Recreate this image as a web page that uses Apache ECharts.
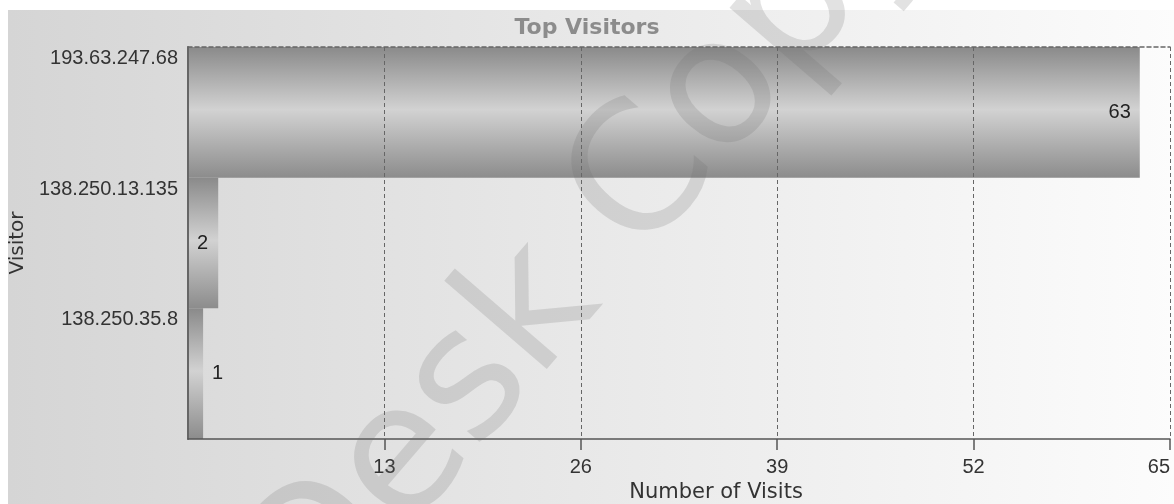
<!DOCTYPE html>
<html>
<head>
<meta charset="utf-8">
<script src="https://cdn.jsdelivr.net/npm/echarts@6/dist/echarts.min.js"></script>
<style>
html,body{margin:0;padding:0;background:#fff;}
#chart{width:1174px;height:504px;}
</style>
</head>
<body>
<div id="chart"></div>
<script>
const titleText = 'Top Visitors';
const visitors = ['193.63.247.68', '138.250.13.135', '138.250.35.8'];
const visits = [63, 2, 1];
const xTicks = { min: 0, max: 65, interval: 13 };
const xName = 'Number of Visits';
const yName = 'Visitor';
const watermark = 'Desk Copy';

const labelPos = ['insideRight', 'insideLeft', 'right'];
const barGrad = {
  type: 'linear', x: 0, y: 0, x2: 0, y2: 1,
  colorStops: [
    { offset: 0, color: '#8a8a8a' },
    { offset: 0.48, color: '#d2d2d2' },
    { offset: 1, color: '#8c8c8c' }
  ]
};

const chart = echarts.init(document.getElementById('chart'), null, { renderer: 'canvas' });
chart.setOption({
  animation: false,
  title: {
    text: titleText, left: 'center', top: 17, padding: 0,
    textStyle: { fontFamily: 'DejaVu Sans', fontWeight: 'bold', fontSize: 22, color: '#8c8c8c' }
  },
  graphic: [
    {
      type: 'rect', z: -10, silent: true,
      shape: { x: 8, y: 10, width: 1166, height: 494 },
      style: {
        fill: { type: 'linear', x: 0, y: 0, x2: 1, y2: 0,
          colorStops: [{ offset: 0, color: '#d5d5d5' }, { offset: 1, color: '#fcfcfc' }] }
      }
    },
    {
      type: 'text', z: 100, silent: true,
      x: 590, y: 248, rotation: 0.86,
      style: {
        text: watermark, x: 0, y: 0, align: 'center', verticalAlign: 'middle',
        font: 'normal 178px "DejaVu Sans"', fill: 'rgba(110,110,110,0.2)'
      }
    }
  ],
  grid: { left: 188, right: 4, top: 47, bottom: 65, containLabel: false, outerBoundsMode: 'none' },
  xAxis: [
    {
      type: 'value', min: xTicks.min, max: xTicks.max, interval: xTicks.interval, z: 5,
      name: xName, nameLocation: 'middle', nameGap: 42,
      nameTextStyle: { fontFamily: 'DejaVu Sans', fontSize: 21, color: '#333', padding: [0, 0, 0, 74] },
      axisLine: { show: true, lineStyle: { color: '#555', width: 1.5 } },
      axisTick: { show: true, length: 11, lineStyle: { color: '#555', width: 1.5 } },
      axisLabel: { showMinLabel: false, alignMaxLabel: 'right', margin: 18, fontFamily: 'Liberation Sans', fontSize: 20, color: '#333' },
      splitLine: { show: true, lineStyle: { color: '#666', width: 1, type: [4, 3] } }
    },
    {
      type: 'value', position: 'top', min: xTicks.min, max: xTicks.max, interval: xTicks.interval, z: 5,
      axisLine: { show: true, lineStyle: { color: '#666', width: 1.5, type: [4, 3] } },
      axisTick: { show: false }, axisLabel: { show: false }, splitLine: { show: false }
    }
  ],
  yAxis: {
    type: 'category', data: visitors, inverse: true, z: 5,
    name: yName, nameLocation: 'middle', nameRotate: 90, nameGap: 158,
    nameTextStyle: { fontFamily: 'DejaVu Sans', fontSize: 20, color: '#333' },
    axisLine: { show: true, lineStyle: { color: '#666', width: 2 } },
    axisTick: { show: false },
    axisLabel: {
      margin: 10, color: '#333',
      formatter: v => '{t|' + v + '}\n{s|}',
      rich: {
        t: { fontFamily: 'Liberation Sans', fontSize: 20, color: '#333', lineHeight: 22, align: 'right' },
        s: { height: 108, lineHeight: 108 }
      }
    },
    splitLine: { show: false }
  },
  series: [{
    type: 'bar', xAxisIndex: 0,
    barCategoryGap: '0%',
    itemStyle: { color: barGrad },
    data: visits.map((v, i) => ({
      value: v,
      label: { show: true, position: labelPos[i], distance: 9,
        fontFamily: 'Liberation Sans', fontSize: 20, color: '#222' }
    }))
  }]
});
</script>
</body>
</html>
